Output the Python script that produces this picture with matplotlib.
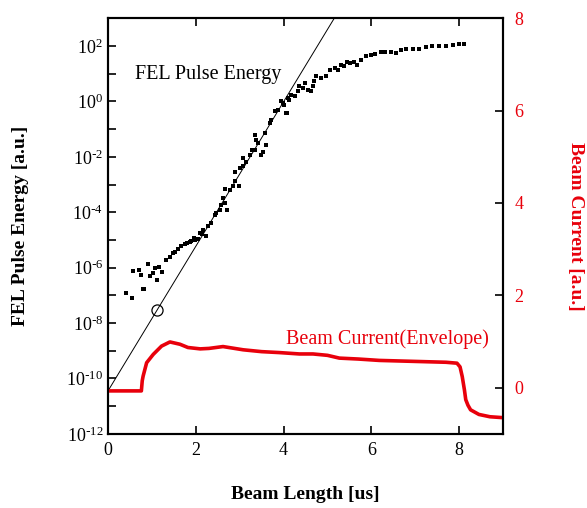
import numpy as np
import matplotlib.pyplot as plt
from matplotlib.ticker import FixedLocator, FixedFormatter

plt.rcParams["font.family"] = ["Liberation Serif", "DejaVu Serif"]
plt.rcParams["mathtext.default"] = "regular"

# FEL pulse energy vs beam length (x in us, log10 of energy in a.u.)
pulse_x = [0.42, 0.54, 0.58, 0.71, 0.75, 0.79, 0.82, 0.92, 0.95, 1.03, 1.07, 1.11,
           1.17, 1.22, 1.33, 1.41, 1.48, 1.52, 1.60, 1.67, 1.75, 1.80, 1.86, 1.90,
           1.96, 1.98, 2.05, 2.09, 2.13, 2.17, 2.23, 2.27, 2.34, 2.43, 2.47, 2.55,
           2.58, 2.62, 2.66, 2.66, 2.70, 2.77, 2.85, 2.89, 2.89, 2.98, 3.00, 3.07,
           3.07, 3.15, 3.23, 3.27, 3.34, 3.34, 3.38, 3.42, 3.49, 3.53, 3.57, 3.61,
           3.68, 3.72, 3.80, 3.87, 3.95, 3.99, 4.02, 4.06, 4.08, 4.10, 4.12, 4.17,
           4.25, 4.33, 4.36, 4.44, 4.48, 4.55, 4.63, 4.67, 4.70, 4.74, 4.86, 4.97,
           5.05, 5.16, 5.23, 5.31, 5.37, 5.45, 5.52, 5.60, 5.67, 5.77, 5.88, 5.99,
           6.09, 6.21, 6.32, 6.45, 6.56, 6.67, 6.79, 6.94, 7.09, 7.24, 7.39, 7.55,
           7.70, 7.85, 8.00, 8.11]
pulse_log = [-6.90, -7.10, -6.11, -6.08, -6.26, -6.77, -6.77, -5.86, -6.29, -6.20,
             -6.02, -6.44, -5.96, -6.17, -5.71, -5.60, -5.47, -5.42, -5.32, -5.23,
             -5.14, -5.12, -5.09, -5.05, -4.93, -4.99, -4.96, -4.75, -4.78, -4.63,
             -4.85, -4.51, -4.39, -4.09, -4.03, -3.91, -3.73, -3.49, -3.67, -3.16,
             -3.91, -3.19, -3.07, -2.89, -2.56, -3.07, -2.40, -2.35, -2.04, -2.17,
             -1.92, -1.74, -1.74, -1.20, -1.38, -1.50, -1.92, -1.81, -1.14, -1.56,
             -0.78, -0.66, -0.36, -0.30, 0.00, -0.06, -0.12, -0.42, -0.42, 0.12,
             0.06, 0.24, 0.18, 0.36, 0.54, 0.48, 0.66, 0.42, 0.36, 0.54, 0.72,
             0.90, 0.84, 0.90, 1.14, 1.21, 1.14, 1.32, 1.26, 1.44, 1.39, 1.44,
             1.32, 1.51, 1.63, 1.69, 1.72, 1.77, 1.78, 1.80, 1.75, 1.84, 1.89,
             1.90, 1.90, 1.95, 1.99, 2.01, 2.01, 2.04, 2.06, 2.08]

# exponential-growth fit (log10 energy along a straight line) and the marked point
fit_x = [0.0, 5.2]
fit_log = [-10.45, 3.12]
mark_x = [1.12]
mark_log = [-7.53]

# beam current envelope (right axis)
current_x = [0.0, 0.76, 0.78, 0.80, 0.88, 1.03, 1.22, 1.41, 1.64, 1.82, 2.10, 2.30,
             2.62, 3.08, 3.50, 3.90, 4.36, 4.67, 5.00, 5.27, 5.70, 6.18, 6.94, 7.70,
             7.95, 8.02, 8.07, 8.12, 8.15, 8.20, 8.26, 8.45, 8.70, 9.00]
current_val = [-0.07, -0.07, 0.15, 0.25, 0.54, 0.72, 0.90, 0.99, 0.94, 0.87, 0.84,
               0.85, 0.89, 0.82, 0.78, 0.76, 0.73, 0.73, 0.70, 0.64, 0.62, 0.59,
               0.57, 0.55, 0.53, 0.45, 0.24, -0.05, -0.26, -0.38, -0.48, -0.58,
               -0.63, -0.65]

x_ticks = [0, 2, 4, 6, 8]
current_ticks = [0, 2, 4, 6, 8]
decades = list(range(-12, 4))

RED = "#e8000b"

fig = plt.figure(figsize=(5.87, 5.08), dpi=100)
ax = fig.add_axes([0.184, 0.146, 0.673, 0.818])
ax2 = ax.twinx()

ax.semilogy(pulse_x, 10.0 ** np.array(pulse_log), "s", color="black", ms=2.6,
            mew=0, zorder=3)
ax.semilogy(fit_x, 10.0 ** np.array(fit_log), color="black", lw=0.7, zorder=2)
ax.semilogy(mark_x, 10.0 ** np.array(mark_log), "o", mfc="none", mec="black",
            ms=8, mew=0.9, zorder=4)

ax2.plot(current_x, current_val, color=RED, lw=2.6)

ax.set_xlim(0, 9)
ax.set_ylim(1e-12, 1e3)
ax2.set_ylim(-1, 8)

ax.set_xticks(x_ticks)
ax.set_xticklabels([str(t) for t in x_ticks])
ax.yaxis.set_major_locator(FixedLocator([10.0 ** k for k in decades]))
ax.yaxis.set_major_formatter(FixedFormatter(
    [f"$10^{{{k}}}$".replace("-", "\\text{-}") if (k % 2 == 0 and k <= 2) else ""
     for k in decades]))
ax.yaxis.set_minor_locator(FixedLocator([]))
ax.tick_params(axis="both", direction="in", length=6, width=1.2, labelsize=13,
               top=True)
ax.tick_params(axis="x", pad=6)

ax2.set_yticks(current_ticks)
ax2.tick_params(axis="y", direction="in", length=6, width=1.2, labelsize=13,
                labelcolor=RED, pad=8)

for a in (ax, ax2):
    for sp in a.spines.values():
        sp.set_linewidth(1.5)

ax.set_xlabel("Beam Length [us]", fontsize=14, fontweight="bold", labelpad=19)
ax.set_ylabel("FEL Pulse Energy [a.u.]", fontsize=14, fontweight="bold", labelpad=27)
ax2.set_ylabel("Beam Current [a.u.]", fontsize=14, fontweight="bold", color=RED,
               rotation=-90, labelpad=44)

ax.text(0.62, 10 ** 0.96, "FEL Pulse Energy", fontsize=14.5, va="center", ha="left")
ax2.text(4.05, 1.05, "Beam Current(Envelope)", fontsize=14.5, color=RED,
         va="center", ha="left")

fig.savefig("out.png", dpi=100)
